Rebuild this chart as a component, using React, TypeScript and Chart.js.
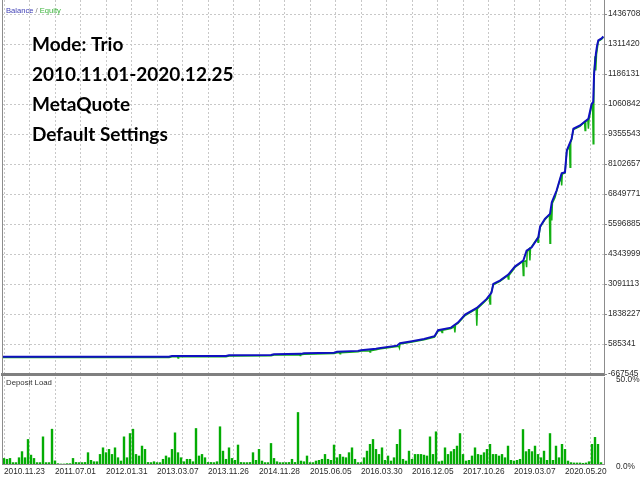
import { useEffect, useRef } from 'react'
import Chart from 'chart.js/auto'

// trade axis: one unit is one 3px bucket of the MT tester chart
const dateLabels = ['2010.11.23', '2011.07.01', '2012.01.31', '2013.03.07', '2013.11.26', '2014.11.28', '2015.06.05', '2016.03.30', '2016.12.05', '2017.10.26', '2019.03.07', '2020.05.20']
const gridTicks = [0, 8.5, 17, 25.5, 34, 42.5, 51, 59.5, 68, 76.5, 85, 93.5, 102, 110.5, 119, 127.5, 136, 144.5, 153, 161.5, 170, 178.5, 187, 195.5]

const balanceTicks = [-667545, 585341, 1838227, 3091113, 4343999, 5596885, 6849771, 8102657, 9355543, 10608429, 11861315, 13114201, 14367087]

const balanceX = [-0.6, 55, 56, 74, 75, 89, 90, 99, 100, 110, 111, 118, 119, 124, 125, 131, 132, 136, 140, 143.5, 144.7, 149, 151.3, 153.7, 157.6, 160.9, 162.5, 163.1, 165.3, 168.1, 170.3, 173.1, 174.2, 175.9, 178.1, 178.7, 180.3, 182, 182.6, 184.2, 185.9, 187, 187.6, 189.2, 189.8, 192, 194.8, 195.9, 196.4, 196.7, 197.3, 197.7, 198.1, 199.2, 199.8]
const balanceY = [56000, 56000, 89000, 89000, 115000, 131000, 161000, 173000, 198000, 223000, 257000, 298000, 328000, 383000, 412000, 516000, 621000, 704000, 796000, 913000, 1164000, 1269000, 1478000, 1812000, 2092000, 2468000, 2731000, 3094000, 3233000, 3484000, 3818000, 4069000, 4487000, 4625000, 5043000, 5490000, 5812000, 6021000, 6506000, 6995000, 7718000, 7760000, 8667000, 9156000, 9574000, 9712000, 9992000, 10619000, 10686000, 11873000, 12709000, 13056000, 13265000, 13349000, 13432000]

const equityX = [
  -0.6, 55, 56, 57.8, 58, 58.2, 74, 75, 89, 90, 98.5, 98.7, 98.9, 100, 110, 111, 111.8, 112, 112.2, 118,
  119, 121.8, 122, 122.2, 124, 125, 131, 131.6, 131.8, 132, 136, 140, 143.5, 144.7, 145.8, 146, 146.2, 149, 150.1, 150.3,
  150.5, 151.3, 153.7, 157.4, 157.6, 157.8, 160.9, 161.8, 162, 162.2, 163.1, 165.3, 167.9, 168.1, 168.3, 170.3, 172.9, 173.1, 173.3, 174,
  174.2, 174.4, 175.1, 175.3, 175.5, 177.8, 178, 178.2, 178.7, 180.3, 181.8, 182, 182.2, 182.4, 182.6, 182.8, 183.7, 184.2, 185.7, 185.9,
  186.1, 187, 187.6, 188.5, 188.7, 188.9, 189.2, 189.8, 192, 193.5, 193.7, 193.9, 194.6, 194.8, 195, 195.9, 196.2, 196.4, 196.6, 196.7,
  197, 197.2, 197.3, 197.5, 198.1, 199.2, 199.8,
]
const equityY = [
  20000, 20000, 52000, 52000, 5000, 52000, 52000, 80000, 96000, 125000, 135000, 100000, 140000, 160000, 188000, 220000, 222000, 175000, 222000, 262000,
  292000, 300000, 250000, 305000, 345000, 375000, 480000, 490000, 420000, 585000, 668000, 760000, 877000, 1128000, 1150000, 1070000, 1160000, 1233000, 1300000, 1070000,
  1380000, 1440000, 1776000, 2056000, 1352000, 2056000, 2432000, 2560000, 2259000, 2650000, 3058000, 3197000, 3440000, 3304000, 3448000, 3782000, 4033000, 3442000, 4033000, 4060000,
  3789000, 4451000, 4560000, 4069000, 4589000, 5000000, 4834000, 5007000, 5454000, 5776000, 5985000, 4792000, 5985000, 6100000, 5741000, 6470000, 6715000, 6959000, 7600000, 7204000,
  7682000, 7724000, 8631000, 8900000, 7969000, 9000000, 9120000, 9538000, 9676000, 9860000, 9503000, 9870000, 9950000, 9574000, 9956000, 10583000, 10650000, 8947000, 10650000, 11837000,
  12600000, 12650000, 12011000, 12673000, 13229000, 13313000, 13396000,
]

// deposit load in percent, one value per bucket
const depositLoad = [
  3.4, 2.9, 3.4, 1, 1, 3.8, 7.3, 3.8, 14.3, 5.3, 3.4, 1, 1, 15.8, 1, 1, 20.2, 2, 0.4, 0.2,
  0.2, 0.4, 0.4, 3.4, 1.1, 1, 1, 1.1, 6.7, 2.3, 1.5, 1.5, 5.7, 9.5, 6.7, 8.6, 5.7, 9.5, 3.8, 1.9,
  15.8, 3.8, 17.7, 20.2, 5.7, 4.8, 10.5, 8.6, 1.1, 1, 1.5, 1, 1, 2.9, 4.8, 3.8, 8.6, 18.1, 6.7, 3.8,
  1.5, 2.9, 2.9, 1.5, 20.6, 4.8, 5.7, 3.8, 1.1, 1.1, 1, 1.5, 21.6, 7.6, 2.9, 9.5, 3.4, 2.3, 11.1, 1.1,
  1, 1, 1.1, 6.7, 2.3, 8.6, 1.9, 1, 1, 12, 3.4, 1.5, 1, 1, 1, 1.1, 2.9, 1.1, 29.8, 1.9,
  1.5, 4.8, 1, 1, 1.9, 2.3, 2.9, 5.7, 2.9, 2.3, 11.1, 3.8, 5.7, 4.2, 3.8, 6.7, 9.5, 2.9, 1, 1,
  3.8, 7.6, 11.5, 14.3, 8.6, 5.7, 9.5, 2.3, 4.8, 1.9, 3.8, 11.5, 20, 2.9, 1.9, 7.6, 2.9, 5.7, 5.7, 5.7,
  5.3, 4.8, 15.8, 5.7, 18.7, 1.5, 1.9, 9.5, 5.7, 7.3, 8.6, 10.5, 17.7, 5.7, 1.9, 2.3, 4.8, 9.5, 5.7, 5.3,
  6.7, 8.6, 11.5, 5.7, 5.7, 4.8, 5.7, 3.8, 10.5, 2.3, 1.9, 2.3, 2.9, 20, 7.3, 8.6, 7.3, 10.5, 5.7, 3.8,
  7.6, 2.3, 17.7, 2.3, 10.5, 3.8, 11.5, 8.6, 1.9, 1, 0.8, 0.8, 0.8, 0.6, 0.8, 1.5, 11.5, 15.5, 11.5, 1,
]

const captionLines = ['Mode: Trio', '2010.11.01-2020.12.25', 'MetaQuote', 'Default Settings']

const BLUE = '#1010c0'
const GREEN = '#14b014'
const BAR_GREEN = '#04ac04'
const FRAME = '#8c8c8c'
const GRID = '#c8c8c8'
const LABEL = '#2a2a2a'
const SMALL_FONT = '"Liberation Sans", Arial, sans-serif'
const TICK_SIZE = 8.3

const leftFrame = {
  id: 'leftFrame',
  afterDraw(chart: any) {
    const { ctx, chartArea } = chart
    ctx.save()
    ctx.strokeStyle = FRAME
    ctx.lineWidth = 1
    ctx.beginPath()
    ctx.moveTo(chartArea.left + 0.5, 0)
    ctx.lineTo(chartArea.left + 0.5, chartArea.bottom)
    ctx.stroke()
    ctx.restore()
  },
}

const topCaptions = {
  id: 'topCaptions',
  afterDraw(chart: any) {
    const { ctx } = chart
    ctx.save()
    ctx.textBaseline = 'middle'
    ctx.font = `7.6px ${SMALL_FONT}`
    let x = 6
    const parts: [string, string][] = [['Balance', '#3c3cb4'], [' / ', '#707070'], ['Equity', '#3cb43c']]
    parts.forEach(([t, c]) => {
      ctx.fillStyle = c
      ctx.fillText(t, x, 11)
      x += ctx.measureText(t).width
    })
    ctx.textBaseline = 'alphabetic'
    ctx.fillStyle = '#000'
    ctx.font = 'bold 19px Lato, "Open Sans", sans-serif'
    captionLines.forEach((line, i) => ctx.fillText(line, 32, 51 + i * 30))
    ctx.restore()
  },
}

const bottomCaption = {
  id: 'bottomCaption',
  afterDraw(chart: any) {
    const { ctx } = chart
    ctx.save()
    ctx.textBaseline = 'middle'
    ctx.font = `7.8px ${SMALL_FONT}`
    ctx.fillStyle = '#303030'
    ctx.fillText('Deposit Load', 6, 7)
    ctx.restore()
  },
}

const xGridAxis = (showLabels: boolean, height: number) => ({
  type: 'linear' as const,
  min: -0.667,
  max: 200,
  offset: false,
  afterBuildTicks: (axis: any) => {
    axis.ticks = gridTicks.map((value) => ({ value }))
  },
  afterFit: (axis: any) => {
    axis.height = height
    axis.paddingLeft = 0
    axis.paddingRight = 0
  },
  grid: { color: GRID, lineWidth: 1, drawTicks: false, offset: false },
  border: showLabels
    ? { display: true, color: FRAME, width: 1, dash: [2, 2] }
    : { display: true, color: '#808080', width: 3, dash: [2, 2] },
  ticks: {
    display: showLabels,
    autoSkip: false,
    maxRotation: 0,
    align: 'start' as const,
    padding: 3,
    color: LABEL,
    font: { family: SMALL_FONT, size: TICK_SIZE },
    callback: (_v: any, i: number) => (i % 2 === 0 ? dateLabels[i / 2] ?? '' : ''),
  },
})

const App = () => {
  const topRef = useRef<HTMLCanvasElement>(null)
  const bottomRef = useRef<HTMLCanvasElement>(null)

  useEffect(() => {
    if (!topRef.current || !bottomRef.current) return

    const top = new Chart(topRef.current, {
      type: 'line',
      data: {
        datasets: [
          {
            label: 'Balance',
            data: balanceX.map((x, i) => ({ x, y: balanceY[i] })),
            borderColor: BLUE,
            borderWidth: 2,
            pointRadius: 0,
            tension: 0,
            order: 0,
          },
          {
            label: 'Equity',
            data: equityX.map((x, i) => ({ x, y: equityY[i] })),
            borderColor: GREEN,
            borderWidth: 1.5,
            pointRadius: 0,
            tension: 0,
            order: 1,
          },
        ],
      },
      options: {
        animation: false,
        responsive: false,
        events: [],
        layout: { padding: { left: 2, top: 0, right: 0, bottom: 0 } },
        plugins: { legend: { display: false }, tooltip: { enabled: false } },
        scales: {
          x: xGridAxis(false, 2),
          y: {
            type: 'linear',
            position: 'right',
            min: -667545,
            max: 14951800,
            afterBuildTicks: (axis: any) => {
              axis.ticks = balanceTicks.map((value) => ({ value }))
            },
            afterFit: (axis: any) => {
              axis.width = 36
              axis.paddingTop = 0
              axis.paddingBottom = 0
            },
            grid: { color: GRID, tickColor: FRAME, tickLength: 3, lineWidth: 1 },
            border: { display: true, color: FRAME, width: 1, dash: [2, 2] },
            ticks: {
              padding: 1,
              color: LABEL,
              font: { family: SMALL_FONT, size: TICK_SIZE },
              callback: (v: any) => String(v).slice(0, 7),
            },
          },
        },
      },
      plugins: [leftFrame, topCaptions],
    })

    const bottom = new Chart(bottomRef.current, {
      type: 'bar',
      data: {
        datasets: [
          {
            label: 'Deposit Load',
            data: depositLoad.map((y, x) => ({ x, y })),
            backgroundColor: BAR_GREEN,
            borderWidth: 0,
            barPercentage: 0.8,
            categoryPercentage: 1,
          },
        ],
      },
      options: {
        animation: false,
        responsive: false,
        events: [],
        layout: { padding: { left: 2, top: 1, right: 0, bottom: 0 } },
        plugins: { legend: { display: false }, tooltip: { enabled: false } },
        scales: {
          x: xGridAxis(true, 16),
          y: {
            type: 'linear',
            position: 'right',
            min: 0,
            max: 50,
            afterBuildTicks: (axis: any) => {
              axis.ticks = [{ value: 0 }, { value: 50 }]
            },
            afterFit: (axis: any) => {
              axis.width = 36
              axis.paddingTop = 0
              axis.paddingBottom = 0
            },
            grid: { display: false },
            border: { display: true, color: FRAME, width: 1 },
            ticks: {
              padding: 4,
              labelOffset: 3,
              color: LABEL,
              font: { family: SMALL_FONT, size: TICK_SIZE },
              callback: (v: any) => `${Number(v).toFixed(1)}%`,
            },
          },
        },
      },
      plugins: [leftFrame, bottomCaption],
    })

    return () => {
      top.destroy()
      bottom.destroy()
    }
  }, [])

  return (
    <div style={{ position: 'absolute', left: 0, top: 0, width: 640, height: 480, background: '#fff', overflow: 'hidden' }}>
      <canvas ref={topRef} width={640} height={376} style={{ position: 'absolute', left: 0, top: 0 }}></canvas>
      <canvas ref={bottomRef} width={640} height={104} style={{ position: 'absolute', left: 0, top: 376 }}></canvas>
    </div>
  )
}

export default App
